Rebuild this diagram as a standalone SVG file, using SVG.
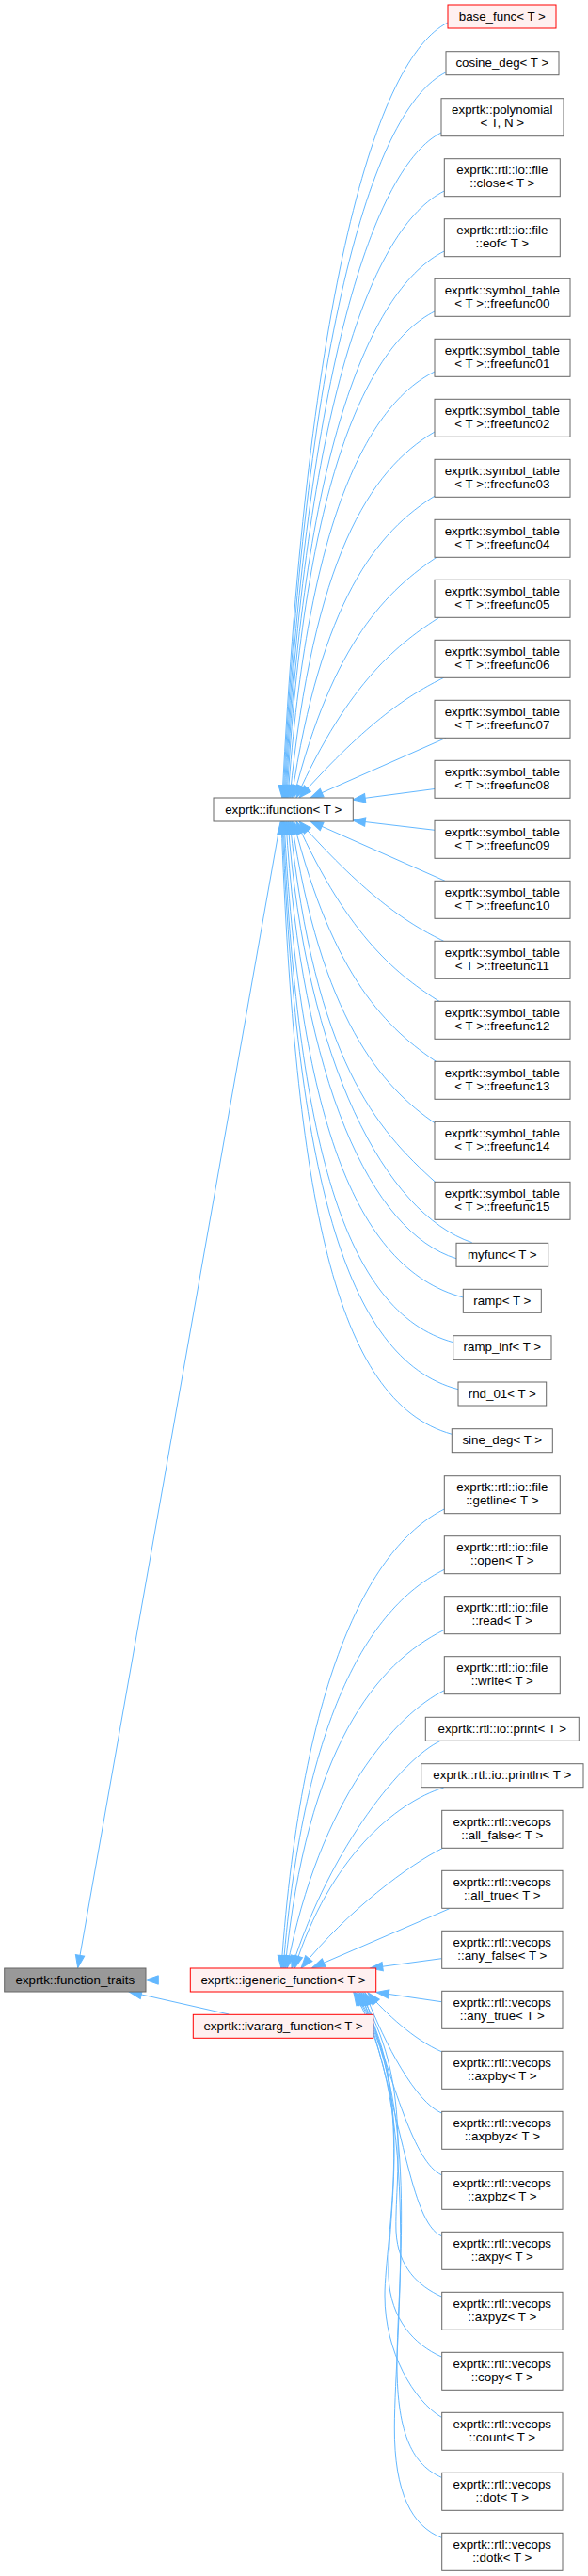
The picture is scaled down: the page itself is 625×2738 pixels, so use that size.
<svg xmlns="http://www.w3.org/2000/svg" width="625" height="2738" viewBox="0 0 625 2738">
<style>
.n rect{fill:#ffffff;stroke:#666666;stroke-width:1}
.r rect{fill:#fff0f0;stroke:#ff0000;stroke-width:1}
.g rect{fill:#999999;stroke:#666666;stroke-width:1}
text{font-family:"Liberation Sans",Arial,Helvetica,sans-serif;font-size:13.33px;text-anchor:middle;fill:#000000}
#edges path{fill:none;stroke:#63b8ff;stroke-width:1;marker-end:url(#ah)}
</style>
<defs>
<marker id="ah" markerUnits="userSpaceOnUse" markerWidth="14" markerHeight="10" refX="13.3" refY="5" orient="auto" overflow="visible">
<path d="M0,0.3 L13.3,5 L0,9.7 Z" fill="#63b8ff" stroke="#63b8ff" stroke-width="1"/>
</marker>
</defs>
<rect x="0" y="0" width="625" height="2738" fill="#ffffff"/>
<g id="edges">
<path d="M476,24 C400,62 327,308 300,848"/>
<path d="M473.7,77 C398,115 326,347 301,848"/>
<path d="M469,141 C399,176 325,388 302,848"/>
<path d="M472.3,203 C396,241 324,429 303,848"/>
<path d="M472.3,267 C396,305 323,470 304,848"/>
<path d="M462,331 C390,367 323,512 305,848"/>
<path d="M462,395 C390,431 327,554 306,848"/>
<path d="M462,459 C392,500 333,595 308,848"/>
<path d="M464,526 C400,565 341,639 310,848"/>
<path d="M466,591 C412,627 354,681 312,848"/>
<path d="M468,655.5 C425,683 371,723 315,848"/>
<path d="M471.7,720.3 C436,738 392,765 318,848"/>
<path d="M474,784.3 L330,848"/>
<path d="M462,838.5 L375,850"/>
<path d="M462,882.3 L375,872"/>
<path d="M473,936.3 L330,873"/>
<path d="M471.7,1000.3 C436,983 392,956 318,873"/>
<path d="M468,1065 C425,1038 371,998 315,873"/>
<path d="M466,1130 C412,1094 354,1040 312,873"/>
<path d="M464,1195 C405,1155 341,1082 310,873"/>
<path d="M463,1256.7 C400,1200 335,1128 308,873"/>
<path d="M501.7,1320.7 C410,1290 325,1130 306,873"/>
<path d="M485,1337.7 C395,1310 320,1150 304,873"/>
<path d="M492.3,1379 C375,1348 318,1180 302,873"/>
<path d="M481.7,1426.7 C365,1395 316,1210 301,873"/>
<path d="M487,1476.7 C365,1445 315,1240 300,873"/>
<path d="M480.3,1524.3 C355,1490 314,1270 299,873"/>
<path d="M298,873.5 L82.7,2091.5"/>
<path d="M472.3,1604 C396.3,1642 321,1775 299,2092"/>
<path d="M472.3,1668.3 C396.3,1706 323,1816 301,2092"/>
<path d="M472.3,1732.3 C400,1768 326,1858 303,2092"/>
<path d="M472.3,1796.7 C422,1821.7 340,1910 305,2092"/>
<path d="M467.7,1850.7 C430,1868 352,1960 310,2092"/>
<path d="M471.7,1900 C420,1916 350,1975 313,2092"/>
<path d="M470.7,1964.3 C435,1982 370,2030 320,2092"/>
<path d="M477.7,2028.7 L332,2091.5"/>
<path d="M469.3,2081.7 L393.5,2092"/>
<path d="M202.3,2104.5 L155,2104.5"/>
<path d="M243.3,2141 L137.3,2117"/>
<path d="M469.3,2127.7 L400,2117.5"/>
<path d="M469.3,2180.7 C440,2168 410,2140 391,2118"/>
<path d="M469.3,2246 C442,2234 410,2175 388,2118"/>
<path d="M469.3,2311.7 C440,2298 420,2220 386,2118"/>
<path d="M469.3,2376.7 C436,2362 428,2250 384,2118"/>
<path d="M469.3,2441 C445,2430 423,2410 421,2372 C419,2320 440,2210 382,2118"/>
<path d="M469.3,2505 C440,2492 415,2465 413,2420 C411,2360 442,2215 380,2118"/>
<path d="M469.3,2569.3 C440,2552 409,2500 409,2440 C409,2380 445,2220 378,2118"/>
<path d="M469.3,2633.3 C440,2620 422,2590 422,2513 C422,2420 448,2230 377,2118"/>
<path d="M469.3,2697.3 C438,2685 419,2650 419.3,2580 C419.6,2480 450,2240 376,2118"/>
</g>
<g id="n_base_func" class="r"><rect x="476" y="5" width="115" height="25"/><text x="533.8" y="21.5">base_func&lt; T &gt;</text></g>
<g id="n_cosine_deg" class="n"><rect x="474" y="54.7" width="120" height="25"/><text x="533.8" y="71.2">cosine_deg&lt; T &gt;</text></g>
<g id="n_polynomial" class="n"><rect x="469" y="104.7" width="130" height="40"/><text x="533.8" y="121.2">exprtk::polynomial</text><text x="533.8" y="135.2">&lt; T, N &gt;</text></g>
<g id="n_close" class="n"><rect x="472.3" y="168.7" width="123" height="40"/><text x="533.8" y="185.2">exprtk::rtl::io::file</text><text x="533.8" y="199.2">::close&lt; T &gt;</text></g>
<g id="n_eof" class="n"><rect x="472.3" y="232.7" width="123" height="40"/><text x="533.8" y="249.2">exprtk::rtl::io::file</text><text x="533.8" y="263.2">::eof&lt; T &gt;</text></g>
<g id="n_ff00" class="n"><rect x="462" y="296.3" width="144" height="40"/><text x="533.8" y="312.8">exprtk::symbol_table</text><text x="533.8" y="326.8">&lt; T &gt;::freefunc00</text></g>
<g id="n_ff01" class="n"><rect x="462" y="360.3" width="144" height="40"/><text x="533.8" y="376.8">exprtk::symbol_table</text><text x="533.8" y="390.8">&lt; T &gt;::freefunc01</text></g>
<g id="n_ff02" class="n"><rect x="462" y="424.3" width="144" height="40"/><text x="533.8" y="440.8">exprtk::symbol_table</text><text x="533.8" y="454.8">&lt; T &gt;::freefunc02</text></g>
<g id="n_ff03" class="n"><rect x="462" y="488.3" width="144" height="40"/><text x="533.8" y="504.8">exprtk::symbol_table</text><text x="533.8" y="518.8">&lt; T &gt;::freefunc03</text></g>
<g id="n_ff04" class="n"><rect x="462" y="552.3" width="144" height="40"/><text x="533.8" y="568.8">exprtk::symbol_table</text><text x="533.8" y="582.8">&lt; T &gt;::freefunc04</text></g>
<g id="n_ff05" class="n"><rect x="462" y="616.3" width="144" height="40"/><text x="533.8" y="632.8">exprtk::symbol_table</text><text x="533.8" y="646.8">&lt; T &gt;::freefunc05</text></g>
<g id="n_ff06" class="n"><rect x="462" y="680.3" width="144" height="40"/><text x="533.8" y="696.8">exprtk::symbol_table</text><text x="533.8" y="710.8">&lt; T &gt;::freefunc06</text></g>
<g id="n_ff07" class="n"><rect x="462" y="744.3" width="144" height="40"/><text x="533.8" y="760.8">exprtk::symbol_table</text><text x="533.8" y="774.8">&lt; T &gt;::freefunc07</text></g>
<g id="n_ff08" class="n"><rect x="462" y="808.3" width="144" height="40"/><text x="533.8" y="824.8">exprtk::symbol_table</text><text x="533.8" y="838.8">&lt; T &gt;::freefunc08</text></g>
<g id="n_ff09" class="n"><rect x="462" y="872.3" width="144" height="40"/><text x="533.8" y="888.8">exprtk::symbol_table</text><text x="533.8" y="902.8">&lt; T &gt;::freefunc09</text></g>
<g id="n_ff10" class="n"><rect x="462" y="936.3" width="144" height="40"/><text x="533.8" y="952.8">exprtk::symbol_table</text><text x="533.8" y="966.8">&lt; T &gt;::freefunc10</text></g>
<g id="n_ff11" class="n"><rect x="462" y="1000.3" width="144" height="40"/><text x="533.8" y="1016.8">exprtk::symbol_table</text><text x="533.8" y="1030.8">&lt; T &gt;::freefunc11</text></g>
<g id="n_ff12" class="n"><rect x="462" y="1064.3" width="144" height="40"/><text x="533.8" y="1080.8">exprtk::symbol_table</text><text x="533.8" y="1094.8">&lt; T &gt;::freefunc12</text></g>
<g id="n_ff13" class="n"><rect x="462" y="1128.3" width="144" height="40"/><text x="533.8" y="1144.8">exprtk::symbol_table</text><text x="533.8" y="1158.8">&lt; T &gt;::freefunc13</text></g>
<g id="n_ff14" class="n"><rect x="462" y="1192.3" width="144" height="40"/><text x="533.8" y="1208.8">exprtk::symbol_table</text><text x="533.8" y="1222.8">&lt; T &gt;::freefunc14</text></g>
<g id="n_ff15" class="n"><rect x="462" y="1256.3" width="144" height="40"/><text x="533.8" y="1272.8">exprtk::symbol_table</text><text x="533.8" y="1286.8">&lt; T &gt;::freefunc15</text></g>
<g id="n_myfunc" class="n"><rect x="485" y="1321.3" width="97.7" height="25"/><text x="533.8" y="1337.8">myfunc&lt; T &gt;</text></g>
<g id="n_ramp" class="n"><rect x="492.3" y="1370.3" width="83" height="25"/><text x="533.8" y="1386.8">ramp&lt; T &gt;</text></g>
<g id="n_ramp_inf" class="n"><rect x="481.7" y="1419.7" width="104.3" height="25"/><text x="533.8" y="1436.2">ramp_inf&lt; T &gt;</text></g>
<g id="n_rnd_01" class="n"><rect x="487" y="1469" width="93.7" height="25"/><text x="533.8" y="1485.5">rnd_01&lt; T &gt;</text></g>
<g id="n_sine_deg" class="n"><rect x="480.3" y="1518.7" width="107" height="25"/><text x="533.8" y="1535.2">sine_deg&lt; T &gt;</text></g>
<g id="n_getline" class="n"><rect x="472.3" y="1568.7" width="123" height="40"/><text x="533.8" y="1585.2">exprtk::rtl::io::file</text><text x="533.8" y="1599.2">::getline&lt; T &gt;</text></g>
<g id="n_open" class="n"><rect x="472.3" y="1632.7" width="123" height="40"/><text x="533.8" y="1649.2">exprtk::rtl::io::file</text><text x="533.8" y="1663.2">::open&lt; T &gt;</text></g>
<g id="n_read" class="n"><rect x="472.3" y="1696.7" width="123" height="40"/><text x="533.8" y="1713.2">exprtk::rtl::io::file</text><text x="533.8" y="1727.2">::read&lt; T &gt;</text></g>
<g id="n_write" class="n"><rect x="472.3" y="1760.7" width="123" height="40"/><text x="533.8" y="1777.2">exprtk::rtl::io::file</text><text x="533.8" y="1791.2">::write&lt; T &gt;</text></g>
<g id="n_print" class="n"><rect x="452.3" y="1825.3" width="163" height="25"/><text x="533.8" y="1841.8">exprtk::rtl::io::print&lt; T &gt;</text></g>
<g id="n_println" class="n"><rect x="447.7" y="1874.7" width="172.3" height="25"/><text x="533.8" y="1891.2">exprtk::rtl::io::println&lt; T &gt;</text></g>
<g id="n_all_false" class="n"><rect x="469.7" y="1924.3" width="128.3" height="40"/><text x="533.8" y="1940.8">exprtk::rtl::vecops</text><text x="533.8" y="1954.8">::all_false&lt; T &gt;</text></g>
<g id="n_all_true" class="n"><rect x="469.7" y="1988.3" width="128.3" height="40"/><text x="533.8" y="2004.8">exprtk::rtl::vecops</text><text x="533.8" y="2018.8">::all_true&lt; T &gt;</text></g>
<g id="n_any_false" class="n"><rect x="469.7" y="2052.3" width="128.3" height="40"/><text x="533.8" y="2068.8">exprtk::rtl::vecops</text><text x="533.8" y="2082.8">::any_false&lt; T &gt;</text></g>
<g id="n_any_true" class="n"><rect x="469.7" y="2116.3" width="128.3" height="40"/><text x="533.8" y="2132.8">exprtk::rtl::vecops</text><text x="533.8" y="2146.8">::any_true&lt; T &gt;</text></g>
<g id="n_axpby" class="n"><rect x="469.7" y="2180.3" width="128.3" height="40"/><text x="533.8" y="2196.8">exprtk::rtl::vecops</text><text x="533.8" y="2210.8">::axpby&lt; T &gt;</text></g>
<g id="n_axpbyz" class="n"><rect x="469.7" y="2244.3" width="128.3" height="40"/><text x="533.8" y="2260.8">exprtk::rtl::vecops</text><text x="533.8" y="2274.8">::axpbyz&lt; T &gt;</text></g>
<g id="n_axpbz" class="n"><rect x="469.7" y="2308.3" width="128.3" height="40"/><text x="533.8" y="2324.8">exprtk::rtl::vecops</text><text x="533.8" y="2338.8">::axpbz&lt; T &gt;</text></g>
<g id="n_axpy" class="n"><rect x="469.7" y="2372.3" width="128.3" height="40"/><text x="533.8" y="2388.8">exprtk::rtl::vecops</text><text x="533.8" y="2402.8">::axpy&lt; T &gt;</text></g>
<g id="n_axpyz" class="n"><rect x="469.7" y="2436.3" width="128.3" height="40"/><text x="533.8" y="2452.8">exprtk::rtl::vecops</text><text x="533.8" y="2466.8">::axpyz&lt; T &gt;</text></g>
<g id="n_copy" class="n"><rect x="469.7" y="2500.3" width="128.3" height="40"/><text x="533.8" y="2516.8">exprtk::rtl::vecops</text><text x="533.8" y="2530.8">::copy&lt; T &gt;</text></g>
<g id="n_count" class="n"><rect x="469.7" y="2564.3" width="128.3" height="40"/><text x="533.8" y="2580.8">exprtk::rtl::vecops</text><text x="533.8" y="2594.8">::count&lt; T &gt;</text></g>
<g id="n_dot" class="n"><rect x="469.7" y="2628.3" width="128.3" height="40"/><text x="533.8" y="2644.8">exprtk::rtl::vecops</text><text x="533.8" y="2658.8">::dot&lt; T &gt;</text></g>
<g id="n_dotk" class="n"><rect x="469.7" y="2692.3" width="128.3" height="40"/><text x="533.8" y="2708.8">exprtk::rtl::vecops</text><text x="533.8" y="2722.8">::dotk&lt; T &gt;</text></g>
<g id="n_ifunction" class="n"><rect x="227" y="848" width="148.3" height="25"/><text x="301.2" y="864.5">exprtk::ifunction&lt; T &gt;</text></g>
<g id="n_function_traits" class="g"><rect x="4.7" y="2092" width="150.3" height="25"/><text x="79.85" y="2108.5">exprtk::function_traits</text></g>
<g id="n_igeneric_function" class="r"><rect x="202.3" y="2092" width="197.4" height="25"/><text x="301" y="2108.5">exprtk::igeneric_function&lt; T &gt;</text></g>
<g id="n_ivararg_function" class="r"><rect x="205.3" y="2141.3" width="191.4" height="25"/><text x="301" y="2157.8">exprtk::ivararg_function&lt; T &gt;</text></g>
</svg>
